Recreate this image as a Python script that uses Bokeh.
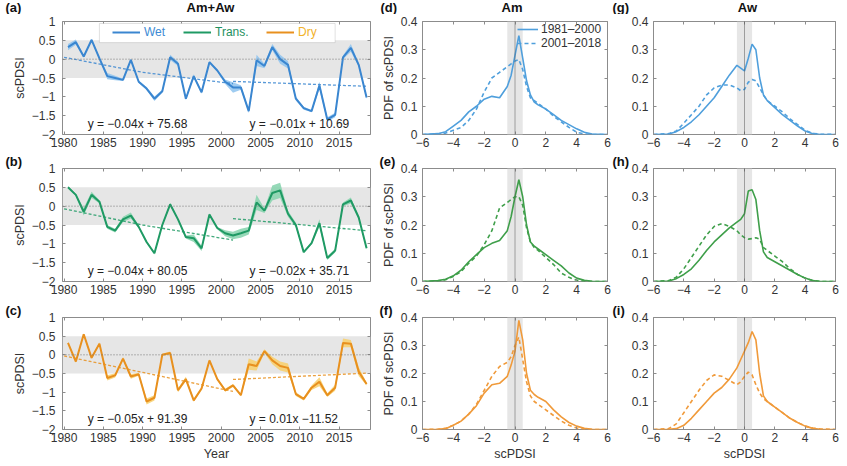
import numpy as np
from bokeh.plotting import figure
from bokeh.layouts import row, column
from bokeh.models import (Range1d, FixedTicker, CustomJSTickFormatter, BoxAnnotation,
                          Span, Label, Legend, LegendItem, Title, LinearAxis)
from bokeh.embed import file_html
from bokeh.resources import INLINE

FONT = "Liberation Sans"

# ---------------- time series data (1980-2018) ----------------
years = list(range(1980, 2019))
year_mid = [y + 0.5 for y in years]

wet = [0.32, 0.45, 0.07, 0.51, 0.02, -0.45, -0.5, -0.55, -0.02, -0.6,
       -0.78, -1.05, -0.85, 0.05, -0.12, -1.05, -0.45, -0.88, -0.08, -0.3,
       -0.6, -0.75, -0.75, -1.38, -0.03, -0.18, 0.32, 0.0, -0.15, -1.05,
       -1.3, -1.38, -0.7, -1.6, -1.48, 0.05, 0.3, -0.15, -1.02]
wet_sd = [0.08, 0.07, 0.03, 0.03, 0.03, 0.08, 0.06, 0.03, 0.03, 0.03,
          0.04, 0.06, 0.04, 0.07, 0.06, 0.04, 0.05, 0.04, 0.03, 0.03,
          0.06, 0.14, 0.06, 0.05, 0.15, 0.06, 0.08, 0.12, 0.1, 0.05,
          0.04, 0.03, 0.1, 0.06, 0.06, 0.05, 0.1, 0.05, 0.04]

trans = [0.5, 0.3, -0.15, 0.3, 0.12, -0.55, -0.65, -0.35, -0.25, -0.55,
         -0.95, -1.25, -0.5, 0.05, -0.35, -0.82, -0.85, -1.12, -0.22, -0.58,
         -0.72, -0.78, -0.72, -0.65, 0.1, -0.12, 0.35, 0.42, -0.2, -0.5,
         -1.22, -0.98, -0.45, -1.38, -1.18, 0.05, 0.15, -0.3, -1.12]
trans_sd = [0.03, 0.03, 0.1, 0.08, 0.04, 0.05, 0.05, 0.07, 0.08, 0.03,
            0.03, 0.03, 0.03, 0.04, 0.03, 0.04, 0.1, 0.07, 0.03, 0.03,
            0.08, 0.1, 0.12, 0.1, 0.2, 0.06, 0.2, 0.2, 0.08, 0.06,
            0.03, 0.03, 0.1, 0.05, 0.05, 0.05, 0.08, 0.04, 0.03]

dry = [0.32, -0.18, 0.55, -0.08, 0.3, -0.62, -0.55, -0.1, -0.58, -0.52,
       -1.25, -1.15, 0.0, 0.05, -0.95, -0.65, -1.22, -0.9, -0.15, -0.65,
       -0.95, -0.82, -1.08, -0.25, -0.3, 0.1, -0.15, -0.3, -0.35, -1.05,
       -1.18, -0.88, -0.72, -1.08, -0.88, 0.32, 0.3, -0.45, -0.78]
dry_sd = [0.03, 0.03, 0.03, 0.03, 0.04, 0.07, 0.06, 0.04, 0.06, 0.04,
          0.08, 0.07, 0.03, 0.04, 0.05, 0.06, 0.04, 0.04, 0.03, 0.03,
          0.04, 0.04, 0.03, 0.15, 0.12, 0.05, 0.1, 0.12, 0.12, 0.05,
          0.04, 0.06, 0.12, 0.05, 0.08, 0.12, 0.1, 0.12, 0.04]

trend_years_1 = [1980, 1990, 2001.5]
trend_years_2 = [2001.5, 2018.5]
wet_trend1, wet_trend2 = [0.05, -0.35, -0.65], [-0.59, -0.72]
trans_trend1, trans_trend2 = [-0.07, -0.5, -0.9], [-0.33, -0.65]
dry_trend1, dry_trend2 = [-0.03, -0.47, -0.98], [-0.66, -0.49]

wet_eq = ["y = \u22120.04x + 75.68", "y = \u22120.01x + 10.69"]
trans_eq = ["y = \u22120.04x + 80.05", "y = \u22120.02x + 35.71"]
dry_eq = ["y = \u22120.05x + 91.39", "y = 0.01x \u221211.52"]

year_ticks = [1980, 1985, 1990, 1995, 2000, 2005, 2010, 2015]
spdi_ticks = [-2, -1.5, -1, -0.5, 0, 0.5, 1]

# ---------------- PDF data ----------------
pdf_x = [-6, -5, -4.5, -4, -3.5, -3, -2.5, -2, -1.5, -1, -0.5, -0.25, 0, 0.25,
         0.5, 0.75, 1, 1.25, 1.5, 2, 2.5, 3, 3.5, 4, 4.5, 5, 6]

am_wet_p1 = [0, 0.003, 0.01, 0.03, 0.05, 0.08, 0.1, 0.125, 0.135, 0.13, 0.17, 0.21, 0.28, 0.35,
             0.27, 0.19, 0.14, 0.115, 0.105, 0.09, 0.07, 0.05, 0.035, 0.02, 0.008, 0.002, 0]
am_wet_p2 = [0, 0.002, 0.005, 0.015, 0.025, 0.05, 0.09, 0.15, 0.2, 0.22, 0.24, 0.25, 0.26, 0.265,
             0.23, 0.17, 0.13, 0.12, 0.11, 0.09, 0.065, 0.045, 0.025, 0.008, 0.002, 0, 0]
aw_wet_p1 = [0, 0.002, 0.01, 0.025, 0.045, 0.07, 0.1, 0.13, 0.17, 0.21, 0.245, 0.235, 0.225, 0.27,
             0.32, 0.3, 0.2, 0.14, 0.12, 0.095, 0.07, 0.05, 0.03, 0.012, 0.003, 0, 0]
aw_wet_p2 = [0, 0.003, 0.012, 0.04, 0.07, 0.1, 0.14, 0.165, 0.175, 0.175, 0.165, 0.155, 0.16, 0.185,
             0.195, 0.19, 0.165, 0.14, 0.12, 0.1, 0.08, 0.055, 0.035, 0.015, 0.004, 0.001, 0]

am_tr_p1 = [0, 0.003, 0.008, 0.02, 0.04, 0.07, 0.095, 0.12, 0.135, 0.145, 0.18, 0.23, 0.3, 0.36,
            0.3, 0.2, 0.14, 0.125, 0.115, 0.095, 0.075, 0.055, 0.03, 0.012, 0.004, 0.001, 0]
am_tr_p2 = [0, 0.002, 0.006, 0.018, 0.035, 0.065, 0.09, 0.13, 0.18, 0.26, 0.28, 0.29, 0.3, 0.3,
            0.27, 0.19, 0.14, 0.12, 0.11, 0.085, 0.06, 0.03, 0.015, 0.004, 0.001, 0, 0]
aw_tr_p1 = [0, 0.002, 0.01, 0.025, 0.045, 0.075, 0.11, 0.14, 0.165, 0.19, 0.21, 0.22, 0.24, 0.32,
            0.325, 0.29, 0.18, 0.105, 0.085, 0.07, 0.055, 0.04, 0.025, 0.012, 0.003, 0, 0]
aw_tr_p2 = [0, 0.003, 0.015, 0.045, 0.085, 0.125, 0.165, 0.195, 0.205, 0.195, 0.18, 0.165, 0.155, 0.15,
            0.152, 0.155, 0.15, 0.12, 0.11, 0.09, 0.07, 0.045, 0.025, 0.012, 0.004, 0, 0]

am_dry_p1 = [0, 0.001, 0.003, 0.015, 0.03, 0.055, 0.085, 0.13, 0.16, 0.165, 0.19, 0.23, 0.28, 0.39,
             0.32, 0.2, 0.14, 0.125, 0.115, 0.1, 0.07, 0.045, 0.025, 0.012, 0.004, 0.001, 0]
am_dry_p2 = [0, 0.001, 0.004, 0.015, 0.03, 0.055, 0.09, 0.14, 0.19, 0.225, 0.24, 0.26, 0.3, 0.33,
             0.25, 0.17, 0.12, 0.1, 0.09, 0.07, 0.05, 0.03, 0.015, 0.005, 0.001, 0, 0]
aw_dry_p1 = [0, 0.001, 0.003, 0.015, 0.04, 0.07, 0.1, 0.13, 0.15, 0.18, 0.22, 0.25, 0.28, 0.31,
             0.35, 0.32, 0.2, 0.12, 0.1, 0.08, 0.06, 0.04, 0.025, 0.012, 0.004, 0.001, 0]
aw_dry_p2 = [0, 0.003, 0.02, 0.06, 0.1, 0.14, 0.175, 0.195, 0.19, 0.175, 0.16, 0.17, 0.19, 0.205,
             0.195, 0.16, 0.13, 0.11, 0.1, 0.08, 0.06, 0.04, 0.025, 0.012, 0.005, 0.002, 0]

pdf_xticks = [-6, -4, -2, 0, 2, 4, 6]
pdf_yticks = [0, 0.1, 0.2, 0.3, 0.4]
period_labels = ["1981\u20132000", "2001\u20132018"]

header_texts = ["(a)", "Am+Aw", "(d)", "Am", "(g)", "Aw"]

# ---------------- colors ----------------
WET, WET_BAND = "#3a86d0", "#8ec3ee"
TRANS, TRANS_BAND = "#1f9a64", "#84d2ab"
DRY, DRY_BAND = "#e8901e", "#f8cf6a"
WET_TXT, TRANS_TXT, DRY_TXT = "#3d8bd4", "#1e9060", "#f2b22a"
PDF_WET, PDF_TRANS, PDF_DRY = "#4f9fdc", "#3f9f4a", "#f09a3a"
BAND_GRAY = "#e6e6e6"
FRAME = "#8c8c8c"
TXT = "#333333"

HEADER_H = 14
ROWS = [dict(h=137, top=7, bottom=17), dict(h=149, top=16, bottom=19), dict(h=165, top=16, bottom=36)]
COLS = [dict(w=378, left=62, right=8), dict(w=233, left=44, right=4), dict(w=235, left=42, right=11)]
TOTAL_W = sum(c["w"] for c in COLS)


def fmt():
    return CustomJSTickFormatter(code="return String(tick).replace('-', '\u2212');")


def box_ticks(ticks):
    """Unlabelled inward ticks for the top / right edges of the box."""
    return LinearAxis(ticker=FixedTicker(ticks=ticks), major_label_text_font_size="1px",
                      major_label_text_alpha=0, major_label_standoff=0, axis_line_color=None,
                      major_tick_in=3, major_tick_out=0, major_tick_line_color=FRAME,
                      minor_tick_line_color=None)


def make_fig(r, c, xr, yr, xticks, yticks, xlabel=None, ylabel=None, ystand=7):
    R, C = ROWS[r], COLS[c]
    p = figure(width=C["w"], height=R["h"], x_range=Range1d(*xr), y_range=Range1d(*yr),
               output_backend="svg", toolbar_location=None, tools="",
               min_border_left=C["left"], min_border_right=C["right"],
               min_border_top=R["top"], min_border_bottom=R["bottom"])
    p.grid.visible = False
    p.outline_line_color = FRAME
    p.outline_line_width = 1
    p.xaxis.ticker = FixedTicker(ticks=xticks)
    p.yaxis.ticker = FixedTicker(ticks=yticks)
    for ax in p.axis:
        ax.formatter = fmt()
        ax.axis_line_color = None
        ax.major_tick_in = 3
        ax.major_tick_out = 0
        ax.major_tick_line_color = FRAME
        ax.minor_tick_line_color = None
        ax.major_label_text_font = FONT
        ax.major_label_text_font_size = "12px"
        ax.major_label_text_color = TXT
        ax.axis_label_text_font = FONT
        ax.axis_label_text_font_size = "12.5px"
        ax.axis_label_text_font_style = "normal"
        ax.axis_label_text_color = TXT
    p.xaxis.major_label_standoff = 3
    p.xaxis.axis_label_standoff = 2
    p.yaxis.major_label_standoff = ystand
    p.yaxis.axis_label_standoff = 2
    if xlabel:
        p.xaxis.axis_label = xlabel
    if ylabel:
        p.yaxis.axis_label = ylabel
    p.add_layout(box_ticks(xticks), "above")
    p.add_layout(box_ticks(yticks), "right")
    return p


def letter(p, text, offset):
    p.add_layout(Title(text=text, align="left", offset=offset, standoff=0,
                       text_font=FONT, text_font_size="13px", text_font_style="bold",
                       text_color="#111111"), "above")


# ---------------- header strip: panel letters + column titles of the top row ----------------
hdr = figure(width=TOTAL_W, height=HEADER_H, x_range=Range1d(0, TOTAL_W), y_range=Range1d(0, HEADER_H),
             output_backend="svg", toolbar_location=None, tools="", min_border=0,
             x_axis_type=None, y_axis_type=None, outline_line_color=None)
frame_left = [COLS[0]["left"], COLS[0]["w"] + COLS[1]["left"], COLS[0]["w"] + COLS[1]["w"] + COLS[2]["left"]]
frame_w = [c["w"] - c["left"] - c["right"] for c in COLS]
letter_pos = [5, frame_left[1] - 42, frame_left[2] - 41]
title_pos = [frame_left[0] + frame_w[0] / 2 - 6, frame_left[1] + frame_w[1] / 2 - 3,
             frame_left[2] + frame_w[2] / 2 + 3]
for i in range(3):
    hdr.add_layout(Label(x=letter_pos[i], y=HEADER_H / 2, text=header_texts[2 * i], text_font=FONT,
                         text_font_size="13px", text_font_style="bold", text_color="#111111",
                         text_align="left", text_baseline="middle"))
    hdr.add_layout(Label(x=title_pos[i], y=HEADER_H / 2, text=header_texts[2 * i + 1], text_font=FONT,
                         text_font_size="13px", text_font_style="bold", text_color="#111111",
                         text_align="center", text_baseline="middle"))

XR_TS = (1979.8, 2019.0)
YR_TS = (-2, 1)


def ts_panel(r, series, sd, color, band, t1, t2, eqs, xlabel=None):
    p = make_fig(r, 0, XR_TS, YR_TS, year_ticks, spdi_ticks, xlabel=xlabel, ylabel="scPDSI", ystand=7)
    p.add_layout(BoxAnnotation(bottom=-0.5, top=0.5, fill_color=BAND_GRAY, fill_alpha=1,
                               line_color=None, level="underlay"))
    p.add_layout(Span(location=0, dimension="width", line_color="#777777", line_width=1,
                      line_dash="1 2"))
    lo = [v - s for v, s in zip(series, sd)]
    hi = [v + s for v, s in zip(series, sd)]
    p.varea(x=year_mid, y1=lo, y2=hi, fill_color=band, fill_alpha=0.85)
    ln = p.line(x=year_mid, y=series, line_color=color, line_width=2)
    p.line(x=trend_years_1, y=t1, line_color=color, line_width=1.3, line_dash="3 2", line_alpha=0.85)
    p.line(x=trend_years_2, y=t2, line_color=color, line_width=1.3, line_dash="3 2", line_alpha=0.85)
    p.add_layout(Label(x=1983.0, y=-1.73, text=eqs[0], text_font=FONT, text_font_size="12px",
                       text_color="#222222", text_align="left", text_baseline="middle"))
    p.add_layout(Label(x=2003.6, y=-1.73, text=eqs[1], text_font=FONT, text_font_size="12px",
                       text_color="#222222", text_align="left", text_baseline="middle"))
    return p, ln


pa, ln_wet = ts_panel(0, wet, wet_sd, WET, WET_BAND, wet_trend1, wet_trend2, wet_eq)
pb, ln_tr = ts_panel(1, trans, trans_sd, TRANS, TRANS_BAND, trans_trend1, trans_trend2, trans_eq)
pc, ln_dr = ts_panel(2, dry, dry_sd, DRY, DRY_BAND, dry_trend1, dry_trend2, dry_eq, xlabel="Year")
letter(pb, "(b)", -57)
letter(pc, "(c)", -57)

# legend of panel (a)
pa.add_layout(BoxAnnotation(left=1984.5, right=2014.5, bottom=0.44, top=0.947,
                            fill_color="white", fill_alpha=1, line_color="#9a9a9a", line_width=1))
dummy_tr = pa.line(x=[np.nan], y=[np.nan], line_color=TRANS, line_width=2)
dummy_dr = pa.line(x=[np.nan], y=[np.nan], line_color=DRY, line_width=2)
for name, rend, tcol, xoff in [("Wet", ln_wet, WET_TXT, 50), ("Trans.", dummy_tr, TRANS_TXT, 121),
                               ("Dry", dummy_dr, DRY_TXT, 204)]:
    lg = Legend(items=[LegendItem(label=name, renderers=[rend])], location=(xoff, 95),
                orientation="horizontal", border_line_color=None, background_fill_alpha=0,
                padding=0, margin=0, spacing=0, glyph_width=28, glyph_height=14,
                label_standoff=4, label_height=14, label_text_color=tcol,
                label_text_font=FONT, label_text_font_size="12px")
    pa.add_layout(lg)


# ---------------- PDF panels ----------------
def pdf_panel(r, c, p1, p2, color, xlabel=None, legend=False):
    ylabel = "PDF of scPDSI" if c == 1 else None
    p = make_fig(r, c, (-6, 6), (0, 0.4), pdf_xticks, pdf_yticks, xlabel=xlabel,
                 ylabel=ylabel, ystand=5)
    p.add_layout(BoxAnnotation(left=-0.5, right=0.5, fill_color=BAND_GRAY, fill_alpha=1,
                               line_color=None, level="underlay"))
    p.add_layout(Span(location=0, dimension="height", line_color="#555555", line_width=1,
                      line_dash="1 1"))
    l1 = p.line(x=pdf_x, y=p1, line_color=color, line_width=1.6)
    l2 = p.line(x=pdf_x, y=p2, line_color=color, line_width=1.6, line_dash="4 3")
    if legend:
        lg = Legend(items=[LegendItem(label=period_labels[0], renderers=[l1]),
                           LegendItem(label=period_labels[1], renderers=[l2])],
                    location=(95, 84), border_line_color=None, background_fill_alpha=0,
                    padding=0, margin=0, spacing=0, glyph_width=21, glyph_height=12,
                    label_standoff=3, label_height=12, label_text_color=TXT,
                    label_text_font=FONT, label_text_font_size="12px")
        p.add_layout(lg)
    return p


pd_ = pdf_panel(0, 1, am_wet_p1, am_wet_p2, PDF_WET, legend=True)
pg = pdf_panel(0, 2, aw_wet_p1, aw_wet_p2, PDF_WET)
pe = pdf_panel(1, 1, am_tr_p1, am_tr_p2, PDF_TRANS)
ph = pdf_panel(1, 2, aw_tr_p1, aw_tr_p2, PDF_TRANS)
pf = pdf_panel(2, 1, am_dry_p1, am_dry_p2, PDF_DRY, xlabel="scPDSI")
pi = pdf_panel(2, 2, aw_dry_p1, aw_dry_p2, PDF_DRY, xlabel="scPDSI")
letter(pe, "(e)", -43)
letter(pf, "(f)", -43)
letter(ph, "(h)", -41)
letter(pi, "(i)", -41)

layout = column(hdr, row(pa, pd_, pg), row(pb, pe, ph), row(pc, pf, pi))

with open("out.html", "w") as f:
    f.write(file_html(layout, INLINE))
